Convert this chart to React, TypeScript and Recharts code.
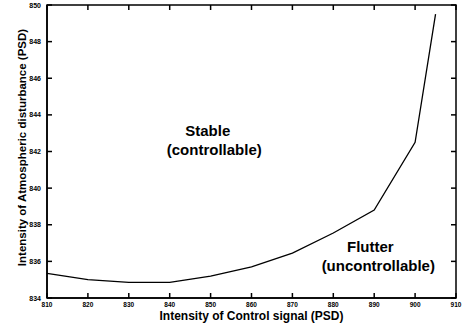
import { Label, Line, LineChart, ReferenceArea, ReferenceDot, XAxis, YAxis } from "recharts";

const controlSignal = [810, 820, 830, 840, 850, 860, 870, 880, 890, 900, 905];
const disturbance = [835.35, 835.0, 834.85, 834.85, 835.2, 835.7, 836.45, 837.55, 838.8, 842.5, 849.5];

const xTicks = [810, 820, 830, 840, 850, 860, 870, 880, 890, 900, 910];
const yTicks = [834, 836, 838, 840, 842, 844, 846, 848, 850];

const data = controlSignal.map((x, i) => ({ x, y: disturbance[i] }));

const FONT = "Liberation Sans, Arial, sans-serif";
const W = 466;
const H = 323;
const M = { top: 5, right: 10, bottom: 0, left: 0 };
const PLOT_TOP = M.top;
const PLOT_RIGHT = W - M.right;

// ticks point inward on all four sides, like the original figure
function BottomTick({ x, y, payload }: any) {
  return (
    <g>
      <path d={`M${x},${y}L${x},${y - 5}`} stroke="#000" strokeWidth={1.5} />
      <path d={`M${x},${PLOT_TOP}L${x},${PLOT_TOP + 5}`} stroke="#000" strokeWidth={1.5} />
      <text x={x} y={y + 9} textAnchor="middle" fontSize={6.5} fontWeight="bold" fontFamily={FONT} fill="#000">
        {payload.value}
      </text>
    </g>
  );
}

function LeftTick({ x, y, payload }: any) {
  return (
    <g>
      <path d={`M${x},${y}L${x + 5},${y}`} stroke="#000" strokeWidth={1.5} />
      <path d={`M${PLOT_RIGHT},${y}L${PLOT_RIGHT - 5},${y}`} stroke="#000" strokeWidth={1.5} />
      <text x={x - 6} y={y + 2.5} textAnchor="end" fontSize={7} fontWeight="bold" fontFamily={FONT} fill="#000">
        {payload.value}
      </text>
    </g>
  );
}

const regionLabel = { fill: "#000", fontSize: 15, fontWeight: "bold", fontFamily: FONT, position: "center" as const };

export default function App() {
  return (
    <div style={{ position: "absolute", left: 0, top: 0, background: "#fff" }}>
      <LineChart width={W} height={H} data={data} margin={M}>
        <ReferenceArea
          x1={810}
          x2={910}
          y1={834}
          y2={850}
          ifOverflow="visible"
          fill="none"
          fillOpacity={0}
          stroke="#000"
          strokeWidth={1.5}
          strokeOpacity={1}
        />
        <XAxis
          dataKey="x"
          type="number"
          domain={[810, 910]}
          ticks={xTicks}
          height={25}
          tickSize={0}
          tickMargin={0}
          tick={<BottomTick />}
          axisLine={{ stroke: "#000", strokeWidth: 1.5 }}
          interval={0}
        >
          <Label
            value="Intensity of Control signal (PSD)"
            position="insideBottom"
            offset={3}
            fill="#000"
            fontSize={12}
            fontWeight="bold"
            fontFamily={FONT}
          />
        </XAxis>
        <YAxis
          type="number"
          domain={[834, 850]}
          ticks={yTicks}
          width={47}
          tickSize={0}
          tickMargin={0}
          tick={<LeftTick />}
          axisLine={{ stroke: "#000", strokeWidth: 1.5 }}
          interval={0}
        >
          <Label
            value="Intensity of Atmospheric disturbance (PSD)"
            angle={-90}
            position="insideLeft"
            offset={22}
            dy={-4}
            fill="#000"
            fontSize={11.5}
            fontWeight="bold"
            fontFamily={FONT}
            style={{ textAnchor: "middle" }}
          />
        </YAxis>
        <Line
          dataKey="y"
          type="linear"
          stroke="#000"
          strokeWidth={1.3}
          dot={false}
          isAnimationActive={false}
        />
        <ReferenceDot x={849.3} y={843.13} r={0} fill="none" stroke="none" label={{ ...regionLabel, value: "Stable" }} />
        <ReferenceDot x={850.9} y={842.09} r={0} fill="none" stroke="none" label={{ ...regionLabel, value: "(controllable)" }} />
        <ReferenceDot x={889.05} y={836.78} r={0} fill="none" stroke="none" label={{ ...regionLabel, value: "Flutter" }} />
        <ReferenceDot x={891.0} y={835.79} r={0} fill="none" stroke="none" label={{ ...regionLabel, value: "(uncontrollable)" }} />
      </LineChart>
    </div>
  );
}
